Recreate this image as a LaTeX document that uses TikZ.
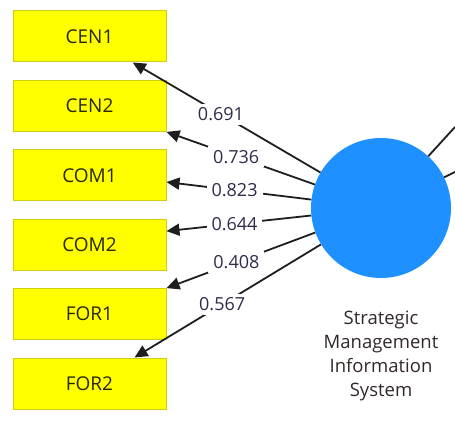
\documentclass[tikz,border=0pt]{standalone}
\usepackage{fontspec}
\setmainfont{Open Sans}
\usepackage{tikz}
\usetikzlibrary{positioning,arrows.meta}

\definecolor{boxyellow}{RGB}{255,255,0}
\definecolor{boxedge}{RGB}{205,205,20}
\definecolor{lvblue}{RGB}{30,144,255}
\definecolor{pathgray}{RGB}{30,30,30}
\definecolor{loadtext}{RGB}{45,45,75}
\definecolor{itemtext}{RGB}{40,40,0}
\definecolor{captext}{RGB}{50,40,40}

\begin{document}
\begin{tikzpicture}[
		x=1pt, y=-1pt,
		node distance={69.4pt},
		>={Triangle[length=13pt,width=12pt]},
		item/.style = {draw=boxedge, line width=1pt, fill=boxyellow, minimum width=153pt, minimum height=51pt, inner sep=0pt, text=itemtext, font=\fontsize{19}{22}\selectfont},
		latent/.style = {circle, fill=lvblue, minimum size=140pt, inner sep=0pt},
		caption/.style = {align=center, text=captext, font=\fontsize{18.5}{24}\selectfont},
		path/.style = {->, draw=pathgray, line width=1.8pt},
		load/.style = {fill=white, inner xsep=5pt, inner ysep=4pt, pos=0.53, text=loadtext, font=\fontsize{18}{20}\selectfont}
	]
	\useasboundingbox (0,0) rectangle (455,422);
	\node[item] (cen1) at (89.5,36.5) {CEN1};
	\node[item] (cen2) [below of=cen1] {CEN2};
	\node[item] (com1) [below of=cen2] {COM1};
	\node[item] (com2) [below of=com1] {COM2};
	\node[item] (for1) [below of=com2] {FOR1};
	\node[item] (for2) [below of=for1] {FOR2};
	\node[latent] (smis) at (381,208) {};
	\node[caption] (smistext) at (381,356) {Strategic\\Management\\Information\\System};
	\coordinate (out1) at (455,127);
	\coordinate (out2) at (455,172);
	\draw[path] (smis) -- node[load] {0.691} (cen1.-31);
	\draw[path] (smis) -- node[load] {0.736} (cen2.south east);
	\draw[path] (smis) -- node[load] {0.823} (com1.-5);
	\draw[path] (smis) -- node[load] {0.644} (com2.10);
	\draw[path] (smis) -- node[load] {0.408} (for1.north east);
	\draw[path] (smis) -- node[load] {0.567} (for2.30);
	\draw[draw=pathgray, line width=1.8pt] (smis) -- (out1);
	\draw[draw=pathgray, line width=1.8pt] (smis) -- (out2);
\end{tikzpicture}
\end{document}
